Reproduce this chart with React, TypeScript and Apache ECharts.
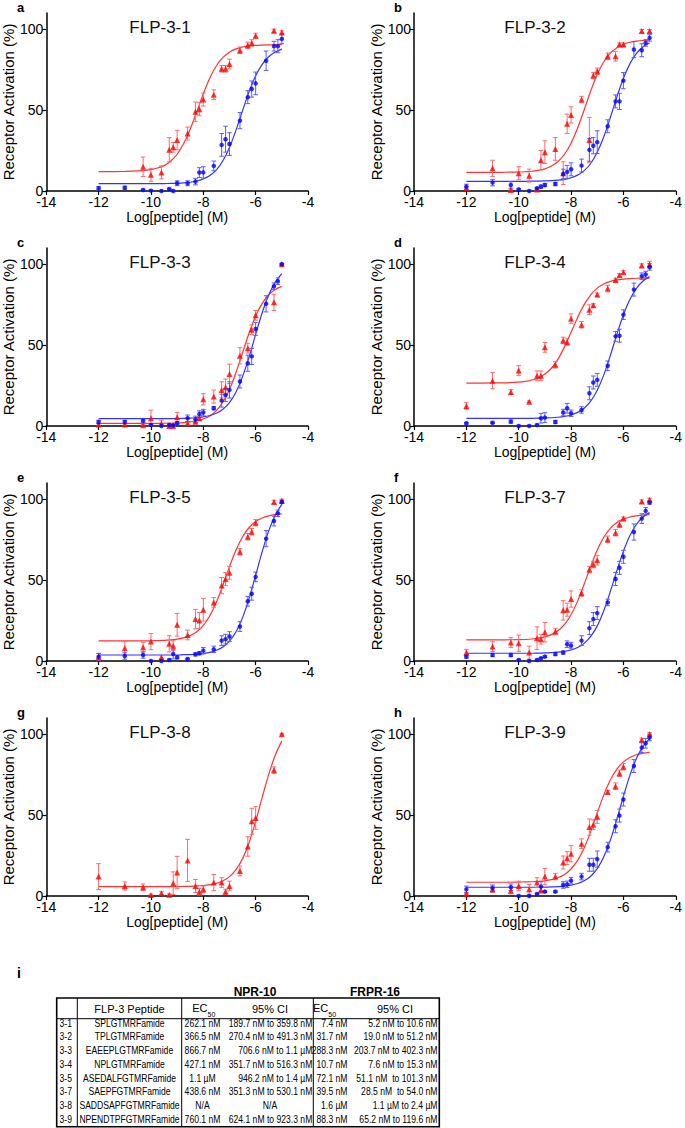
import React, { useEffect, useRef } from "react";
import * as echarts from "echarts";

// log10 molar concentrations tested
const logDose = [-12, -11, -10.3, -10, -9.6, -9.3, -9.15, -9, -8.6, -8.3, -8.15, -8, -7.6, -7.3, -7.15, -7, -6.6, -6.3, -6.15, -6, -5.6, -5.3, -5.15, -5];
// x positions at which the fitted curves were read
const fitX = [-12, -11, -10.5, -10, -9.75, -9.5, -9.25, -9, -8.75, -8.5, -8.25, -8, -7.75, -7.5, -7.25, -7, -6.75, -6.5, -6.25, -6, -5.75, -5.5, -5.25, -5];

const titles = ["FLP-3-1", "FLP-3-2", "FLP-3-3", "FLP-3-4", "FLP-3-5", "FLP-3-7", "FLP-3-8", "FLP-3-9"];
const letters = ["a", "b", "c", "d", "e", "f", "g", "h"];
const xTicks = [-14, -12, -10, -8, -6, -4];
const yTicks = [0, 50, 100];

// FLP-3-1
const a_frpr16 = [null, null, 15, 10, 11.5, 25.5, 27, 31.5, 35.5, 49, 50.5, 56.5, 59.5, 75.5, 75.5, 78.5, 87, 90, 91.5, 96, null, 99, null, 98];
const a_frpr16Err = [0, 0, 6, 4, 4, 7.5, 3, 6, 4, 6, 4, 4, 3, 2, 2, 3, 2, 2, 2, 1.5, 0, 1, 0, 1];
const a_npr10 = [1.7, 2, 0.6, 0.2, 0, 1.2, 0, 4.8, 4.8, 5.8, 11.4, 11.5, 15.5, 28.5, 32, 29, 43.5, 58, 63, 66.5, 80.5, 89.5, 89.5, 94];
const a_npr10Err = [1, 1, 0.5, 0.5, 0.5, 0.5, 0.5, 1.5, 1.5, 2, 3, 3.5, 3, 7, 8, 7, 5, 4, 5, 7, 6, 3, 4, 3];
const a_frpr16Fit = [12, 12.1, 12.4, 13.2, 14.2, 15.7, 18.4, 22.7, 29.3, 38.2, 49, 60.1, 69.9, 77.4, 82.6, 85.8, 87.8, 89, 89.6, 90, 90.2, 90.3, 90.4, 90.4];
const a_npr10Fit = [4.5, 4.5, 4.5, 4.5, 4.55, 4.6, 4.7, 4.8, 5, 5.4, 6.2, 7.4, 9.6, 13.1, 18.7, 26.9, 37.6, 49.7, 61.4, 71.2, 78.3, 83, 85.9, 87.7];

// FLP-3-2
const b_frpr16 = [1.7, 14, 0.6, 11, 9.5, 1, 19, 24, 26, 11, 41.5, 47, 56.5, 31.5, 71.3, 74, 83.3, 83.3, 90.5, 90.5, null, 98.8, null, 98.8];
const b_frpr16Err = [1, 5, 0.5, 4, 4, 1, 6, 7, 7, 7, 6, 5, 2, 14, 2, 2, 2, 3, 1, 1, 0, 1, 0, 1];
const b_npr10 = [2.7, 5.2, 3.7, 1, 0, 1.7, 2.7, 3.7, 4.3, 10.5, 11.8, 13.4, 15.7, 25.4, 28, 30.2, 40, 55.4, 55.4, 68.2, 87.4, 87, 91.5, 94.6];
const b_npr10Err = [1.5, 2, 2, 0.5, 0.5, 0.5, 1, 1, 1, 3, 4, 4, 4, 7, 5, 7, 4, 4, 5, 5, 5, 4, 2, 2];
const b_frpr16Fit = [11.5, 11.5, 11.6, 11.7, 11.9, 12.2, 12.8, 13.7, 15.4, 18.2, 22.7, 29.5, 38.9, 50.1, 61.8, 72, 79.9, 85.2, 88.6, 90.7, 91.9, 92.6, 93, 93.2];
const b_npr10Fit = [6, 6, 6, 6, 6, 6.1, 6.1, 6.2, 6.4, 6.7, 7.2, 8.2, 9.8, 12.6, 17, 23.9, 33.5, 45.4, 58.1, 69.7, 78.7, 85, 89.1, 91.6];

// FLP-3-3
const c_frpr16 = [1, 1, 0.5, 4.8, 1.6, 0, 0, 5.4, 1.6, 2.7, 4.8, 16.5, 18.2, 22.3, 24, 32.2, 43.4, 48.1, 59.5, 68.4, null, 76.4, null, 100];
const c_frpr16Err = [0.5, 0.5, 0.5, 5, 2, 0.5, 0.5, 3, 1, 1, 1, 3.5, 4, 5, 5, 6, 5, 3, 3, 3, 0, 5, 0, 0.5];
const c_npr10 = [2.5, 2.5, 3.3, 0.6, 0, 0.6, 0.4, 1.7, 4.8, 4.1, 7.4, 8.3, 11, 15.7, 19.2, 22.3, 27.5, 38.8, 43, 60, 75.5, 86.4, 89.5, 100];
const c_npr10Err = [1, 1, 1, 0.5, 0.5, 0.5, 0.5, 1, 2, 2, 2, 2, 1, 4, 4, 5, 4, 5, 5, 4, 5, 2, 2, 0.5];
const c_frpr16Fit = [1.6, 1.6, 1.6, 1.6, 1.6, 1.7, 1.8, 1.9, 2.1, 2.5, 3.1, 4.3, 6.2, 9.5, 14.8, 22.6, 33.1, 45.3, 57.5, 68, 75.8, 81.1, 84.4, 86.3];
const c_npr10Fit = [4.5, 4.5, 4.5, 4.5, 4.5, 4.5, 4.55, 4.6, 4.7, 4.9, 5.1, 5.6, 6.5, 7.9, 10.4, 14.5, 21, 30.5, 42.7, 56.6, 70, 80.9, 88.9, 94.2];

// FLP-3-4
const d_frpr16 = [12.4, 28, 21, 34.3, 15, 31, 31, 48.6, 37.8, 52.9, 51.9, 66.3, 62.6, 71.9, 74.6, 81.2, 84.9, 90.3, 93.2, 95, null, 99.2, null, 99.8];
const d_frpr16Err = [2, 5, 1.5, 3, 0.5, 3, 3, 3, 2, 2, 2, 3, 2, 3, 1, 1, 2, 1, 1, 1, 0, 1, 0, 2];
const d_npr10 = [1.7, 2, 2.7, 0, 0, 0.6, 4.8, 5.2, 2.5, 8.3, 11, 7.9, 9.9, 20.2, 26.9, 28.5, 37.2, 55.4, 55.8, 68.8, 84.3, 92.6, 93.6, 98.3];
const d_npr10Err = [0.5, 0.5, 1, 0.5, 0.5, 0.5, 3, 3, 1, 2, 3, 2, 2, 4, 4, 4, 3, 3, 4, 3, 4, 2, 2, 2];
const d_frpr16Fit = [26.5, 26.6, 26.7, 27.1, 27.6, 28.4, 29.7, 32.1, 35.7, 41.3, 48.9, 57.9, 67.1, 75, 81.1, 85.2, 87.8, 89.4, 90.3, 90.8, 91.1, 91.3, 91.4, 91.4];
const d_npr10Fit = [4.75, 4.75, 4.75, 4.75, 4.75, 4.75, 4.9, 5, 5.1, 5.4, 5.9, 6.8, 8.4, 11, 15.4, 22.1, 31.6, 43.6, 56.6, 68.7, 78.3, 85.1, 89.6, 92.3];

// FLP-3-5
const e_frpr16 = [2.7, 7.9, 8.5, 12, 2.3, 10.6, 9.5, 22.4, 16.1, 25.9, 25, 31.7, 36.2, 46.6, 50.7, 54.5, 67.5, 76.8, 79.9, 85.5, null, 98.3, null, 99];
const e_frpr16Err = [2, 4, 3, 5, 1, 5, 3, 7, 3, 6, 5, 7, 3, 5, 4, 4, 2, 2, 2, 2, 0, 1, 0, 1];
const e_npr10 = [2.7, 3.1, 3.7, 0, 0, 0.6, 4.3, 2.3, 1.2, 4.1, 4.8, 6.4, 7.2, 12.6, 13.5, 15.1, 21.3, 36.9, 41.6, 52, 75.6, 86.5, 91.3, 98.3];
const e_npr10Err = [2, 2, 2, 0.5, 0.5, 0.5, 3, 1, 0.5, 1, 1, 2, 2, 3, 3, 3, 3, 3, 4, 3, 5, 3, 2, 1];
const e_frpr16Fit = [12.4, 12.4, 12.4, 12.5, 12.6, 12.7, 13, 13.5, 14.3, 15.7, 18.1, 22, 28, 36.4, 46.9, 58.3, 68.6, 76.8, 82.5, 86.2, 88.4, 89.7, 90.5, 90.9];
const e_npr10Fit = [3.7, 3.7, 3.7, 3.7, 3.7, 3.7, 3.7, 3.7, 3.9, 4, 4.2, 4.6, 5.3, 6.6, 8.7, 12.3, 18.1, 26.8, 38.7, 53, 67.6, 80.4, 90.2, 96.8];

// FLP-3-7
const f_frpr16 = [5.2, 8.9, 11.4, 11, 5.2, 14.1, 13.5, 17.8, 18.2, 31.3, 31.7, 38.3, 42, 56.5, 59.6, 62.3, 75.2, 79.3, 84.5, 88, null, 98.6, null, 99.6];
const f_frpr16Err = [2, 3, 3, 5, 4, 7, 3, 6, 2, 6, 4, 5, 2, 2, 2, 3, 2, 2, 2, 1, 0, 1, 0, 1];
const f_npr10 = [2.7, 3.7, 3.7, 0.6, 0, 0.6, 1.7, 2.7, 4.3, 5.2, 10.4, 9.5, 12.6, 20.3, 25.9, 29.6, 36.2, 50.7, 57.6, 64.4, 79.7, 88, 92.8, 97.9];
const f_npr10Err = [1, 1, 1, 0.5, 0.5, 0.5, 0.5, 0.5, 1, 1, 2, 2, 3, 4, 4, 4, 2, 4, 4, 4, 5, 3, 2, 1];
const f_frpr16Fit = [13, 13, 13.1, 13.2, 13.3, 13.6, 14.1, 14.9, 16.3, 18.7, 22.6, 28.6, 37, 47.4, 58.5, 68.6, 76.5, 82, 85.6, 87.7, 89, 89.7, 90.2, 90.4];
const f_npr10Fit = [4.8, 4.8, 4.8, 4.8, 4.8, 4.8, 4.9, 5, 5.2, 5.5, 6, 6.8, 8.3, 10.9, 15.2, 21.7, 31.1, 42.9, 55.9, 67.9, 77.6, 84.5, 89, 91.7];

// FLP-3-8 (FRPR-16 only)
const g_frpr16 = [12, 6.2, 5.4, 0.6, 1.7, 0.8, 7.9, 14.5, 22, 6.2, 2.7, 4.1, 8.3, 8.3, 2.7, 6.2, 15.5, 30.6, 46.2, 48.2, null, 77.8, null, 100];
const g_frpr16Err = [8, 2.5, 2, 0.5, 1, 0.5, 7, 10, 13, 4, 2, 2, 5, 3, 1.5, 3, 3, 6, 8, 7, 0, 2, 0, 0.5];
const g_frpr16Fit = [5.8, 5.8, 5.8, 5.8, 5.8, 5.8, 5.8, 5.8, 5.9, 6, 6.2, 6.5, 7, 7.8, 9.4, 12, 16.3, 23.1, 33.1, 46.1, 60.9, 75.2, 87.1, 95.7];

// FLP-3-9
const h_frpr16 = [1.2, 4.1, 3.3, 6.2, 4.1, 8.3, 3.7, 12, 12, 20.7, 23.4, 26.1, 32.3, 42.6, 44.1, 48.9, 64.2, 67.9, 75.8, 79.9, null, 96.5, null, 100];
const h_frpr16Err = [0.5, 2, 2, 3, 3, 3, 2, 5, 2, 4, 4, 5, 3, 5, 3, 4, 1, 2, 2, 2, 0, 1, 0, 1];
const h_npr10 = [4.1, 4.8, 5.4, 0, 0, 1.2, 5.8, 2.7, 2.7, 6.8, 7.2, 9.5, 12, 19.3, 19.3, 22.8, 30.2, 43.1, 49.7, 59.6, 80.3, 91.7, 94.4, 97.9];
const h_npr10Err = [2, 2, 2, 0.5, 0.5, 0.5, 3, 0.5, 0.5, 2, 2, 2, 2, 4, 4, 5, 3, 4, 4, 4, 4, 3, 3, 2];
const h_frpr16Fit = [8.5, 8.5, 8.5, 8.6, 8.7, 8.8, 9, 9.4, 10.1, 11.3, 13.3, 16.7, 22, 29.7, 39.8, 51.3, 62.5, 71.7, 78.4, 82.9, 85.6, 87.3, 88.2, 88.8];
const h_npr10Fit = [5.4, 5.4, 5.4, 5.4, 5.4, 5.4, 5.4, 5.5, 5.6, 5.8, 6.1, 6.7, 7.7, 9.4, 12.2, 16.9, 24.2, 34.5, 47.5, 61.6, 74.7, 85.2, 92.5, 97.3];

// table i
const tblIds = ["3-1", "3-2", "3-3", "3-4", "3-5", "3-7", "3-8", "3-9"];
const tblPeptides = ["SPLGTMRFamide", "TPLGTMRFamide", "EAEEPLGTMRFamide", "NPLGTMRFamide", "ASEDALFGTMRFamide", "SAEPFGTMRFamide", "SADDSAPFGTMRFamide", "NPENDTPFGTMRFamide"];
const tblNprEC50 = ["262.1 nM", "366.5 nM", "866.7 nM", "427.1 nM", "1.1 µM", "438.6 nM", "N/A", "760.1 nM"];
const tblNprCI = ["189.7 nM to 359.8 nM", "270.4 nM to 491.3 nM", "706.6 nM to 1.1 µM", "351.7 nM to 516.3 nM", "946.2 nM to 1.4 µM", "351.3 nM to 530.1 nM", "N/A", "624.1 nM to 923.3 nM"];
const tblFrprEC50 = ["7.4 nM", "31.7 nM", "288.3 nM", "10.7 nM", "72.1 nM", "39.5 nM", "1.6 µM", "88.3 nM"];
const tblFrprCI = ["5.2 nM to 10.6 nM", "19.0 nM to 51.2 nM", "203.7 nM to 402.3 nM", "7.6 nM to 15.3 nM", "51.1 nM  to 101.3 nM", "28.5 nM  to 54.0 nM", "1.1 µM to 2.4 µM", "65.2 nM to 119.6 nM"];

const panels = [
  { red: a_frpr16, redErr: a_frpr16Err, redFit: a_frpr16Fit, blue: a_npr10, blueErr: a_npr10Err, blueFit: a_npr10Fit },
  { red: b_frpr16, redErr: b_frpr16Err, redFit: b_frpr16Fit, blue: b_npr10, blueErr: b_npr10Err, blueFit: b_npr10Fit },
  { red: c_frpr16, redErr: c_frpr16Err, redFit: c_frpr16Fit, blue: c_npr10, blueErr: c_npr10Err, blueFit: c_npr10Fit },
  { red: d_frpr16, redErr: d_frpr16Err, redFit: d_frpr16Fit, blue: d_npr10, blueErr: d_npr10Err, blueFit: d_npr10Fit },
  { red: e_frpr16, redErr: e_frpr16Err, redFit: e_frpr16Fit, blue: e_npr10, blueErr: e_npr10Err, blueFit: e_npr10Fit },
  { red: f_frpr16, redErr: f_frpr16Err, redFit: f_frpr16Fit, blue: f_npr10, blueErr: f_npr10Err, blueFit: f_npr10Fit },
  { red: g_frpr16, redErr: g_frpr16Err, redFit: g_frpr16Fit, blue: null, blueErr: null, blueFit: null },
  { red: h_frpr16, redErr: h_frpr16Err, redFit: h_frpr16Fit, blue: h_npr10, blueErr: h_npr10Err, blueFit: h_npr10Fit },
];

const FONT = "'Liberation Sans', Arial, Helvetica, sans-serif";
const RED = "#ff0000";
const BLUE = "#0000ff";
const RED_LINE = "#ff3333";
const BLUE_LINE = "#3333ff";
const RED_ERR = "#ff6a6a";
const BLUE_ERR = "#5a5aff";

function errRender(color: string) {
  return (params: any, api: any) => {
    const x = api.value(0);
    const y = api.value(1);
    const e = api.value(2);
    if (!e) return { type: "group", children: [] };
    const lo = Math.max(0, y - e);
    const hi = y + e;
    const p1 = api.coord([x, hi]);
    const p2 = api.coord([x, lo]);
    const w = 2.3;
    const st = { stroke: color, lineWidth: 1 };
    return {
      type: "group",
      children: [
        { type: "line", shape: { x1: p1[0], y1: p1[1], x2: p2[0], y2: p2[1] }, style: st },
        { type: "line", shape: { x1: p1[0] - w, y1: p1[1], x2: p1[0] + w, y2: p1[1] }, style: st },
        { type: "line", shape: { x1: p2[0] - w, y1: p2[1], x2: p2[0] + w, y2: p2[1] }, style: st },
      ],
    };
  };
}

function pts(vals: (number | null)[]) {
  const out: number[][] = [];
  logDose.forEach((x, k) => {
    if (vals[k] != null) out.push([x, vals[k] as number]);
  });
  return out;
}
function errPts(vals: (number | null)[], errs: number[]) {
  const out: number[][] = [];
  logDose.forEach((x, k) => {
    if (vals[k] != null) out.push([x, vals[k] as number, errs[k]]);
  });
  return out;
}

function buildOption() {
  const grid: any[] = [];
  const xAxis: any[] = [];
  const yAxis: any[] = [];
  const series: any[] = [];
  const graphic: any[] = [];

  panels.forEach((p, i) => {
    const col = i % 2;
    const row = Math.floor(i / 2);
    const left = col === 0 ? 39 : 414;
    const width = col === 0 ? 269 : 266;
    const top = 13 + row * 235;
    grid.push({ left, top, width, height: 178 });
    xAxis.push({
      gridIndex: i,
      type: "value",
      min: -14,
      max: -4,
      interval: 2,
      name: "Log[peptide] (M)",
      nameLocation: "middle",
      nameGap: 17,
      nameTextStyle: { fontSize: 14, color: "#000", fontFamily: FONT },
      axisLine: { onZero: false, lineStyle: { color: "#000", width: 1.5 } },
      axisTick: { length: 4, lineStyle: { color: "#000", width: 1.2 }, customValues: xTicks },
      axisLabel: { fontSize: 14, lineHeight: 12, color: "#000", margin: 5, fontFamily: FONT, customValues: xTicks },
      splitLine: { show: false },
    });
    yAxis.push({
      gridIndex: i,
      type: "value",
      min: 0,
      max: 110,
      name: "Receptor Activation (%)",
      nameLocation: "middle",
      nameGap: 28,
      nameTextStyle: { fontSize: 15, color: "#000", fontFamily: FONT },
      axisLine: { show: true, onZero: false, lineStyle: { color: "#000", width: 1.5 } },
      axisTick: { show: true, length: 4, lineStyle: { color: "#000", width: 1.2 }, customValues: yTicks },
      axisLabel: { fontSize: 14, lineHeight: 11, color: "#000", margin: 3, fontFamily: FONT, customValues: yTicks },
      splitLine: { show: false },
    });

    const common = { xAxisIndex: i, yAxisIndex: i, silent: true };
    series.push({
      ...common,
      type: "line",
      data: fitX.map((x, k) => [x, p.redFit[k]]),
      showSymbol: false,
      smooth: 0.3,
      lineStyle: { color: RED_LINE, width: 1.2 },
      z: 2,
    });
    if (p.blueFit) {
      series.push({
        ...common,
        type: "line",
        data: fitX.map((x, k) => [x, (p.blueFit as number[])[k]]),
        showSymbol: false,
        smooth: 0.3,
        lineStyle: { color: BLUE_LINE, width: 1.2 },
        z: 2,
      });
    }
    series.push({
      ...common,
      type: "custom",
      renderItem: errRender(RED_ERR),
      encode: { x: 0, y: 1 },
      data: errPts(p.red, p.redErr),
      z: 3,
    });
    if (p.blue) {
      series.push({
        ...common,
        type: "custom",
        renderItem: errRender(BLUE_ERR),
        encode: { x: 0, y: 1 },
        data: errPts(p.blue, p.blueErr as number[]),
        z: 3,
      });
    }
    series.push({
      ...common,
      type: "scatter",
      symbol: "triangle",
      symbolSize: 6,
      itemStyle: { color: RED },
      data: pts(p.red),
      z: 4,
    });
    if (p.blue) {
      series.push({
        ...common,
        type: "scatter",
        symbol: "circle",
        symbolSize: 4.5,
        itemStyle: { color: BLUE },
        data: pts(p.blue),
        z: 5,
      });
    }

    graphic.push({
      type: "text",
      x: left + 121,
      y: top + 14,
      style: { text: titles[i], fontSize: 17, fontFamily: FONT, fill: "#111", align: "center", verticalAlign: "middle" },
    });
    graphic.push({
      type: "text",
      x: col === 0 ? 17 : 394,
      y: 7 + row * 235,
      style: { text: letters[i], fontSize: 13, fontWeight: "bold", fontFamily: FONT, fill: "#000", align: "left", verticalAlign: "middle" },
    });
  });

  // table
  const L = 56.7, R = 439.3, T = 998, HB = 1018.7, B = 1126.7;
  graphic.push({ type: "text", x: 17, y: 973, style: { text: "i", fontSize: 14, fontWeight: "bold", fontFamily: FONT, fill: "#000", align: "left", verticalAlign: "middle" } });
  graphic.push({ type: "text", x: 255, y: 991.5, style: { text: "NPR-10", fontSize: 12, fontWeight: "bold", fontFamily: FONT, fill: "#000", align: "center", verticalAlign: "middle" } });
  graphic.push({ type: "text", x: 375, y: 991.5, style: { text: "FRPR-16", fontSize: 12, fontWeight: "bold", fontFamily: FONT, fill: "#000", align: "center", verticalAlign: "middle" } });
  graphic.push({ type: "rect", shape: { x: L, y: T, width: R - L, height: B - T }, style: { fill: "none", stroke: "#000", lineWidth: 1.6 } });
  [77.3, 181.7, 313.3].forEach((x) => {
    graphic.push({ type: "line", shape: { x1: x, y1: T, x2: x, y2: B }, style: { stroke: "#000", lineWidth: 1 } });
  });
  graphic.push({ type: "line", shape: { x1: L, y1: HB, x2: R, y2: HB }, style: { stroke: "#000", lineWidth: 1 } });

  const hdr = (text: string, x: number, y: number, align: string, size = 11) => ({
    type: "text",
    x,
    y,
    style: { text, fontSize: size, fontFamily: FONT, fill: "#000", align, verticalAlign: "middle" },
  });
  graphic.push(hdr("FLP-3 Peptide", 129.5, 1008.5, "center"));
  graphic.push(hdr("EC", 207.5, 1008, "right"));
  graphic.push(hdr("50", 207.5, 1014.5, "left", 7));
  graphic.push(hdr("95% CI", 270, 1008.5, "center"));
  graphic.push(hdr("EC", 328.3, 1008, "right"));
  graphic.push(hdr("50", 328.3, 1014.5, "left", 7));
  graphic.push(hdr("95% CI", 395, 1008.5, "center"));

  const cell = (text: string, x: number, y: number, align: string) => ({
    type: "text",
    x,
    y,
    scaleX: 0.86,
    style: { text, fontSize: 10, fontFamily: FONT, fill: "#000", align, verticalAlign: "middle" },
  });
  tblIds.forEach((id, k) => {
    const y = 1023.5 + k * 13.7;
    graphic.push(cell(id, 59.5, y, "left"));
    graphic.push(cell(tblPeptides[k], 129.5, y, "center"));
    graphic.push(cell(tblNprEC50[k], 202.5, y, "center"));
    if (tblNprCI[k] === "N/A") graphic.push(cell(tblNprCI[k], 270, y, "center"));
    else graphic.push(cell(tblNprCI[k], 312.3, y, "right"));
    graphic.push(cell(tblFrprEC50[k], 347.5, y, "right"));
    graphic.push(cell(tblFrprCI[k], 437.5, y, "right"));
  });

  return {
    animation: false,
    backgroundColor: "#fff",
    textStyle: { fontFamily: FONT },
    grid,
    xAxis,
    yAxis,
    series,
    graphic,
  };
}

export default function App() {
  const ref = useRef<HTMLDivElement>(null);
  useEffect(() => {
    document.body.style.margin = "0";
    const chart = echarts.init(ref.current as HTMLDivElement, null, { renderer: "svg" });
    chart.setOption(buildOption() as any);
    return () => {
      chart.dispose();
    };
  }, []);
  return <div ref={ref} style={{ width: 685, height: 1128 }} />;
}
